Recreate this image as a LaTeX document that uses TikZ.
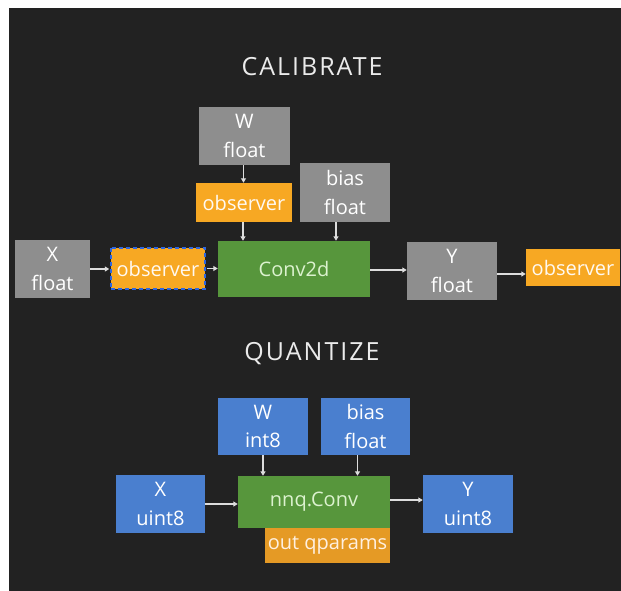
\documentclass[tikz,border=0pt]{standalone}
\usepackage{fontspec}
\setmainfont{Open Sans}
\usetikzlibrary{arrows.meta}
\definecolor{bgc}{HTML}{222222}
\definecolor{grayb}{HTML}{8E8E8E}
\definecolor{orangeb}{HTML}{F7A823}
\definecolor{orangeq}{HTML}{E59A25}
\definecolor{greenb}{HTML}{57963C}
\definecolor{blueb}{HTML}{4A7FCF}
\definecolor{dashblue}{HTML}{2E66E0}
\definecolor{greentext}{HTML}{DCF2CF}
\definecolor{arrowc}{HTML}{DDDDDD}
\tikzset{
  box/.style={inner sep=0pt, align=center, text=white,
    font=\fontsize{20}{28.5}\selectfont},
  graybox/.style={box, fill=grayb, minimum width=90pt, minimum height=58pt},
  bluebox/.style={box, fill=blueb, minimum width=89pt, minimum height=57pt},
  obsbox/.style={box, fill=orangeb, text=white!95!orange, minimum width=95pt, minimum height=39pt},
  convbox/.style={box, fill=greenb, text=greentext, minimum width=152pt, minimum height=56pt},
  titletext/.style={text=white!92!black, font=\fontsize{25}{30}\selectfont\addfontfeatures{LetterSpace=8}},
  arr/.style={draw=arrowc, line width=1.1pt, -{Triangle[width=5pt,length=4.5pt]}},
  dashedborder/.style={draw=dashblue, line width=2.4pt, dash pattern=on 4pt off 3pt}
}
\begin{document}
\begin{tikzpicture}[x=1pt,y=-1pt]
\fill[white] (0,0) rectangle (621,591);
\fill[bgc] (9,8) rectangle (621,591);
\useasboundingbox (0,0) rectangle (621,591);

% CALIBRATE
\node[titletext] (t1) at (312,67) {CALIBRATE};
\node[graybox, minimum width=91pt] (W1) at (244.5,136) {W\\float};
\node[obsbox, minimum width=96pt] (obsW) at (244,202.5) {observer};
\node[graybox, minimum height=59pt] (bias1) at (345,192.5) {bias\\float};
\node[graybox, minimum width=75pt] (X1) at (52.5,269) {X\\float};
\node[obsbox, minimum width=94pt, minimum height=41pt] (obsX) at (158,268.5) {observer};
\draw[dashedborder] (obsX.north west) rectangle (obsX.south east);
\node[convbox] (conv) at (294,269) {Conv2d};
\node[graybox] (Y1) at (452,271) {Y\\float};
\node[obsbox, minimum width=94pt, minimum height=37pt] (obsY) at (573,267.5) {observer};

\draw[arr] ([xshift=-1pt]W1.south) -- ([xshift=-1pt]W1.south |- obsW.north);
\draw[arr] ([xshift=-1pt]obsW.south) -- ([xshift=-1pt]obsW.south |- conv.north);
\draw[arr] ([xshift=-9pt]bias1.south) -- ([xshift=-9pt]bias1.south |- conv.north);
\draw[arr] (X1.east) -- ([xshift=-1.5pt]X1.east -| obsX.west);
\draw[arr] ([xshift=1.5pt]obsX.east) -- (obsX.east -| conv.west);
\draw[arr] ([yshift=-1pt]conv.east) -- ([yshift=-1pt]conv.east -| Y1.west);
\draw[arr] ([yshift=-3pt]Y1.east) -- ([yshift=-3pt]Y1.east -| obsY.west);

% QUANTIZE
\node[titletext] (t2) at (312,354) {QUANTIZE};
\node[bluebox, minimum width=90pt] (W2) at (263,426.5) {W\\int8};
\node[bluebox] (bias2) at (365.5,426.5) {bias\\float};
\node[bluebox, minimum height=58pt] (X2) at (160.5,504) {X\\uint8};
\node[convbox, minimum height=52pt] (nnq) at (314,502) {nnq.Conv};
\node[bluebox, minimum height=58pt, minimum width=90pt] (Y2) at (468,504) {Y\\uint8};
\node[box, fill=orangeq, text=white!88!orange, minimum width=125pt, minimum height=35pt] (outq) at (327.5,545.5) {out qparams};

\draw[arr] (W2.south) -- (W2.south |- nnq.north);
\draw[arr] ([xshift=-8pt]bias2.south) -- ([xshift=-8pt]bias2.south |- nnq.north);
\draw[arr] (X2.east) -- (X2.east -| nnq.west);
\draw[arr] ([yshift=2pt]nnq.east) -- ([yshift=2pt]nnq.east -| Y2.west);
\end{tikzpicture}
\end{document}
